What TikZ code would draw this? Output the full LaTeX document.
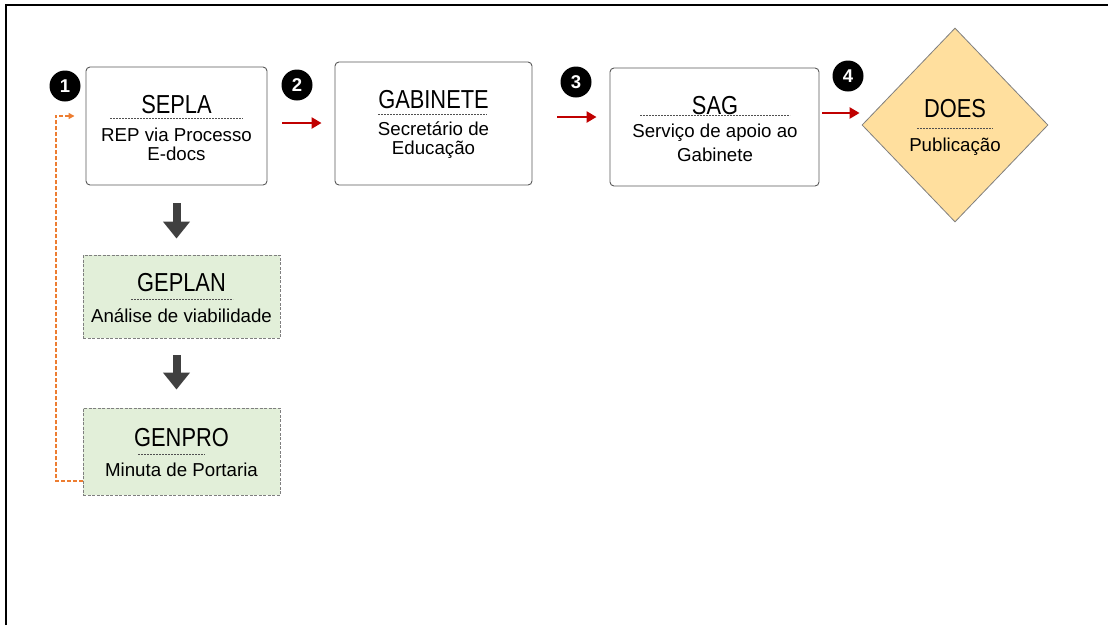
\documentclass[tikz,border=0pt]{standalone}
\usepackage{fontspec}
\setmainfont{Liberation Sans}
\newfontfamily\headfont[FakeStretch=0.84]{Liberation Sans}
\usetikzlibrary{arrows.meta,shapes.geometric}

\definecolor{boxline}{HTML}{595959}
\definecolor{notegreen}{HTML}{E2EFD9}
\definecolor{notegray}{HTML}{7F7F7F}
\definecolor{doesfill}{HTML}{FFDF9E}
\definecolor{flowred}{HTML}{C00000}
\definecolor{downgray}{HTML}{404040}
\definecolor{backorange}{HTML}{ED7D31}
\definecolor{sepgray}{HTML}{505050}

\begin{document}
\begin{tikzpicture}[x=1pt,y=-1pt,
    procbox/.style={draw=boxline, fill=white, rounded corners=4pt, line width=0.9pt, inner sep=0pt},
    notebox/.style={draw=notegray, fill=notegreen, line width=0.9pt, dash pattern=on 3pt off 1.5pt, inner sep=0pt},
    boxhead/.style={font=\headfont\fontsize{26}{28}\selectfont, inner sep=0pt, anchor=base},
    boxsub/.style={font=\fontsize{18.7}{20}\selectfont, inner sep=0pt, anchor=base},
    badge/.style={circle, fill=black, text=white, font=\bfseries\fontsize{18.5}{18.5}\selectfont, minimum size=31pt, inner sep=0pt},
    flow/.style={draw=flowred, line width=2.4pt, -{Triangle[length=10pt,width=11pt]}},
    downarrow/.style={draw=downgray, line width=8pt, -{Triangle[length=17pt,width=26pt]}},
    feedback/.style={draw=backorange, line width=2pt, dash pattern=on 4pt off 2pt, -{Triangle[length=6pt,width=6pt]}},
    sepline/.style={draw=sepgray, line width=0.8pt, dash pattern=on 2pt off 1pt}]

    \useasboundingbox (0,0) rectangle (1108,625);
    \draw[line width=2pt] (6,625) -- (6,5) -- (1108,5);

    % main flow
    \node[procbox, minimum width=181pt, minimum height=118pt] (sepla) at (176.5,126) {};
    \node[procbox, minimum width=197pt, minimum height=123pt] (gabinete) at (433.5,123.5) {};
    \node[procbox, minimum width=209pt, minimum height=118pt] (sag) at (714.5,127) {};
    \node[diamond, draw=notegray, fill=doesfill, line width=0.8pt, inner sep=0pt,
          minimum width=186pt, minimum height=194pt] (does) at (955,125) {};

    % side boxes
    \node[notebox, minimum width=197pt, minimum height=83pt] (geplan) at (181.5,296.5) {};
    \node[notebox, minimum width=197pt, minimum height=87pt] (genpro) at (181.5,451.5) {};

    % texts
    \node[boxhead] (sepla-h) at (176.5,113) {SEPLA};
    \draw[sepline] (110,118) -- (243,118);
    \node[boxsub] (sepla-s1) at (176.5,141.5) {REP via Processo};
    \node[boxsub] (sepla-s2) at (176.5,160) {E-docs};

    \node[boxhead] (gabinete-h) at (433.5,108) {GABINETE};
    \draw[sepline] (378,114) -- (487,114);
    \node[boxsub] (gabinete-s1) at (433.5,135.5) {Secretário de};
    \node[boxsub] (gabinete-s2) at (433.5,154) {Educação};

    \node[boxhead] (sag-h) at (715,114) {SAG};
    \draw[sepline] (640,115) -- (790,115);
    \node[boxsub] (sag-s1) at (715,137) {Serviço de apoio ao};
    \node[boxsub] (sag-s2) at (715,161) {Gabinete};

    \node[boxhead] (does-h) at (955,117) {DOES};
    \draw[sepline] (917,128) -- (993,128);
    \node[boxsub] (does-s) at (955,151) {Publicação};

    \node[boxhead] (geplan-h) at (181.5,291) {GEPLAN};
    \draw[sepline] (131,299) -- (233,299);
    \node[boxsub] (geplan-s) at (181.5,322) {Análise de viabilidade};

    \node[boxhead] (genpro-h) at (181.5,446) {GENPRO};
    \draw[sepline] (138,454) -- (205,454);
    \node[boxsub] (genpro-s) at (181.5,476) {Minuta de Portaria};

    % step numbers
    \node[badge] (n1) at (65,86) {1};
    \node[badge] (n2) at (297,85) {2};
    \node[badge] (n3) at (576,82) {3};
    \node[badge] (n4) at (848,76) {4};

    % arrows
    \draw[flow, shorten <=15pt, shorten >=13pt] ([yshift=3pt]sepla.east) -- ([yshift=3pt]sepla.east -| gabinete.west);
    \draw[flow, shorten <=25pt, shorten >=13pt] ([yshift=6.5pt]gabinete.east) -- ([yshift=6.5pt]gabinete.east -| sag.west);
    \draw[flow, shorten <=3pt, shorten >=2pt] ([yshift=14pt]sag.east) -- ([yshift=14pt]sag.east -| does.west);

    \draw[downarrow, shorten <=18pt, shorten >=16pt] (sepla.south) -- (sepla.south |- geplan.north);
    \draw[downarrow, shorten <=17pt, shorten >=18pt] (sepla.south |- geplan.south) -- (sepla.south |- genpro.north);

    \draw[feedback] ([yshift=14pt]genpro.south west) -- ++(-27,0) |- ([xshift=-11pt,yshift=10pt]sepla.west);
\end{tikzpicture}
\end{document}
